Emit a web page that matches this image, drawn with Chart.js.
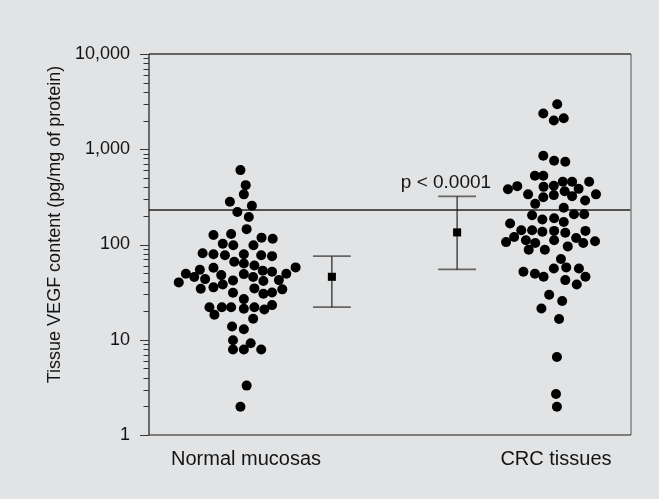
<!DOCTYPE html>
<html>
<head>
<meta charset="utf-8">
<script src="https://cdn.jsdelivr.net/npm/chart.js@4.4.0/dist/chart.umd.min.js"></script>
<style>
  html, body { margin: 0; padding: 0; background: #e2e3e5; }
  canvas { display: block; }
</style>
</head>
<body>
<canvas id="vegfChart" width="659" height="499"></canvas>
<script>
// groups on the x axis (1 = normal mucosas, 2 = CRC tissues)
const categories = ['Normal mucosas', 'CRC tissues'];

// jitter of each dot around its group, in hundredths of a group step
const normalOffset = [-1.8, -0.1, -0.7, -5.2, 1.9, -2.8, 0.9, 0.2, -10.5, -4.8, 5.0, 8.6,
  -7.5, -4.1, 2.4, -14.0, -10.5, -6.8, -0.7, 4.9, 8.4, -3.8, -0.7, 2.7, -10.5, -14.9,
  -19.4, 16.0, 5.4, 8.4, 13.0, -16.7, -8.0, -0.7, 2.3, -13.2, -4.2, 5.6, 10.6, -21.7,
  -7.5, -14.6, -10.5, 2.7, 11.7, -4.2, 5.6, 8.4, -0.7, 8.4, -11.8, -7.8, -4.8, -0.7,
  2.7, 5.9, -10.2, 2.3, -4.5, -0.7, -4.2, 1.5, -4.2, -0.7, 4.9, 0.2, -1.8];
// VEGF content, pg/mg of protein
const normalValues = [604, 420, 336, 281, 255, 219, 194, 145, 126, 129, 118, 115,
  102, 98, 98, 81, 79, 77, 79, 77, 75.5, 65.8, 63.3, 60.3, 57, 54.3,
  49.3, 57.5, 53, 51.7, 49.3, 45.5, 47.7, 48.9, 45.5, 43.3, 42, 41.3, 42.3, 40,
  38.1, 34.3, 35.5, 34.6, 33.8, 31.1, 30.4, 31.4, 26.7, 23.1, 21.9, 21.9, 21.9, 21.2,
  21.9, 20.8, 18.3, 16.6, 13.8, 12.9, 9.9, 9.2, 7.9, 7.9, 7.9, 3.3, 1.98];

const crcOffset = [0.4, -4.1, -0.7, 2.5, -4.1, -0.6, 3.0, -6.8, -4.1, -15.5, -12.5, 2.2,
  5.2, 10.7, -4.0, -0.7, -9.0, 2.8, 7.3, -4.1, -0.7, 5.2, 12.9, -6.7, 9.4, 2.5, -7.7,
  5.8, 9.1, -4.4, -0.6, 2.5, -14.8, -11.2, -7.7, -4.4, -0.6, 3.0, 9.5, -16.1, -13.5,
  -9.7, -6.7, -0.6, 6.5, 8.8, 12.6, -8.8, -3.6, 3.8, 1.6, -10.5, -6.8, -4.0, -0.7, 3.3,
  7.4, 9.5, 3.0, 6.7, -2.2, 2.0, -4.7, 1.0, 0.3, 0.0, 0.3];
const crcValues = [2974, 2376, 2006, 2119, 853, 756, 738, 526, 526, 381, 410, 455,
  455, 455, 403, 413, 336, 363, 384, 314, 330, 322, 336, 267, 290, 243, 203,
  208, 208, 183, 189, 172, 166, 141, 141, 136, 139, 133, 139, 106, 120,
  111, 103.5, 111, 117, 103.5, 108, 88, 88, 95.5, 70.3, 51.7, 49.3, 45.8, 56.1, 57.5,
  56.1, 45.8, 42.3, 38.1, 29.7, 25.5, 21.3, 16.5, 6.6, 2.69, 1.98];

// summary bars (median with range) drawn beside each group
const barPositions = [1.277, 1.681];
const medians = [45.8, 134];
const lowerBars = [22, 54.8];
const upperBars = [75.5, 320];
const capHalfWidth = 0.061;

const cutoffValue = 230;
const pLabel = 'p < 0.0001';
const pLabelX = 1.645;
const pLabelY = 390;

const yMajorTicks = [1, 10, 100, 1000, 10000];
const yTickLabels = ['1', '10', '100', '1,000', '10,000'];
const yMinorTicks = [];
yMajorTicks.slice(0, -1).forEach(d => {
  for (let k = 2; k <= 9; k++) yMinorTicks.push(d * k);
});

const xMin = 0.687, xMax = 2.242;
const FONT = '"Liberation Sans", Arial, sans-serif';
const INK = '#141414';

function lineSet(points, color, width) {
  return {
    data: points,
    showLine: true,
    borderColor: color,
    borderWidth: width,
    pointRadius: 0,
    fill: false
  };
}

const datasets = [
  {
    data: normalValues.map((v, i) => ({ x: 1 + normalOffset[i] / 100, y: v })),
    backgroundColor: '#000', borderColor: '#000', pointRadius: 5, borderWidth: 0
  },
  {
    data: crcValues.map((v, i) => ({ x: 2 + crcOffset[i] / 100, y: v })),
    backgroundColor: '#000', borderColor: '#000', pointRadius: 5, borderWidth: 0
  },
  {
    data: medians.map((v, i) => ({ x: barPositions[i], y: v })),
    pointStyle: 'rect', pointRadius: 5.7,
    backgroundColor: '#000', borderColor: '#000', borderWidth: 0
  },
  lineSet([{ x: xMin, y: cutoffValue }, { x: xMax, y: cutoffValue }], '#222', 1.5)
];

barPositions.forEach((bx, i) => {
  datasets.push(lineSet([{ x: bx, y: lowerBars[i] }, { x: bx, y: upperBars[i] }], '#222', 1.2));
  datasets.push(lineSet([{ x: bx - capHalfWidth, y: upperBars[i] }, { x: bx + capHalfWidth, y: upperBars[i] }], '#666', 1.6));
  datasets.push(lineSet([{ x: bx - capHalfWidth, y: lowerBars[i] }, { x: bx + capHalfWidth, y: lowerBars[i] }], '#666', 1.6));
});

const figurePlugin = {
  id: 'figure',
  beforeDraw(chart) {
    const { ctx, width, height } = chart;
    ctx.save();
    ctx.fillStyle = '#e2e3e5';
    ctx.fillRect(0, 0, width, height);
    ctx.restore();
  },
  afterDatasetsDraw(chart) {
    const { ctx, chartArea: a, scales: { x, y } } = chart;
    const seg = (x1, y1, x2, y2) => {
      ctx.beginPath(); ctx.moveTo(x1, y1); ctx.lineTo(x2, y2); ctx.stroke();
    };
    ctx.save();
    // frame
    ctx.lineWidth = 1.6;
    ctx.strokeStyle = '#8a8a8a';
    seg(a.right, a.top, a.right, a.bottom);
    ctx.strokeStyle = '#3a3a3a';
    seg(a.left, a.top, a.right, a.top);
    ctx.lineWidth = 1.2;
    ctx.strokeStyle = '#1a1a1a';
    seg(a.left, a.top, a.left, a.bottom);
    seg(a.left, a.bottom, a.right, a.bottom);

    // y tick marks
    ctx.lineWidth = 1;
    ctx.strokeStyle = '#333';
    yMajorTicks.forEach(v => {
      const py = Math.round(y.getPixelForValue(v)) + 0.5;
      seg(a.left - 9, py, a.left, py);
    });
    yMinorTicks.forEach(v => {
      const py = Math.round(y.getPixelForValue(v)) + 0.5;
      seg(a.left - 5.5, py, a.left, py);
    });

    // axis title
    ctx.fillStyle = INK;
    ctx.font = '18px ' + FONT;
    ctx.textAlign = 'center';
    ctx.textBaseline = 'middle';
    ctx.save();
    ctx.translate(a.left - 94, (a.top + a.bottom) / 2 - 20);
    ctx.rotate(-Math.PI / 2);
    ctx.fillText('Tissue VEGF content (pg/mg of protein)', 0, 0);
    ctx.restore();

    // significance label
    ctx.font = '19px ' + FONT;
    ctx.textBaseline = 'alphabetic';
    ctx.fillText(pLabel, x.getPixelForValue(pLabelX), y.getPixelForValue(pLabelY));
    ctx.restore();
  }
};

new Chart(document.getElementById('vegfChart'), {
  type: 'scatter',
  data: { datasets },
  plugins: [figurePlugin],
  options: {
    responsive: false,
    animation: false,
    events: [],
    layout: { padding: { left: 0, right: 28, top: 54, bottom: 0 } },
    plugins: { legend: { display: false }, tooltip: { enabled: false } },
    scales: {
      x: {
        type: 'linear',
        min: xMin,
        max: xMax,
        grid: { display: false, drawTicks: false },
        border: { display: false },
        afterBuildTicks: s => { s.ticks = [{ value: 1 }, { value: 2 }]; },
        afterFit: s => { s.height = 64; },
        ticks: {
          padding: 12,
          color: INK,
          font: { family: FONT, size: 20 },
          callback: v => (v === 1 ? categories[0] : v === 2 ? categories[1] : '')
        }
      },
      y: {
        type: 'logarithmic',
        min: 1,
        max: 10000,
        grid: { display: false, drawTicks: false },
        border: { display: false },
        afterBuildTicks: s => { s.ticks = yMajorTicks.map(v => ({ value: v })); },
        afterFit: s => { s.width = 149; },
        ticks: {
          autoSkip: false,
          padding: 19,
          color: INK,
          font: { family: FONT, size: 18 },
          callback: v => {
            const i = yMajorTicks.indexOf(v);
            return i >= 0 ? yTickLabels[i] : '';
          }
        }
      }
    }
  }
});
</script>
</body>
</html>
